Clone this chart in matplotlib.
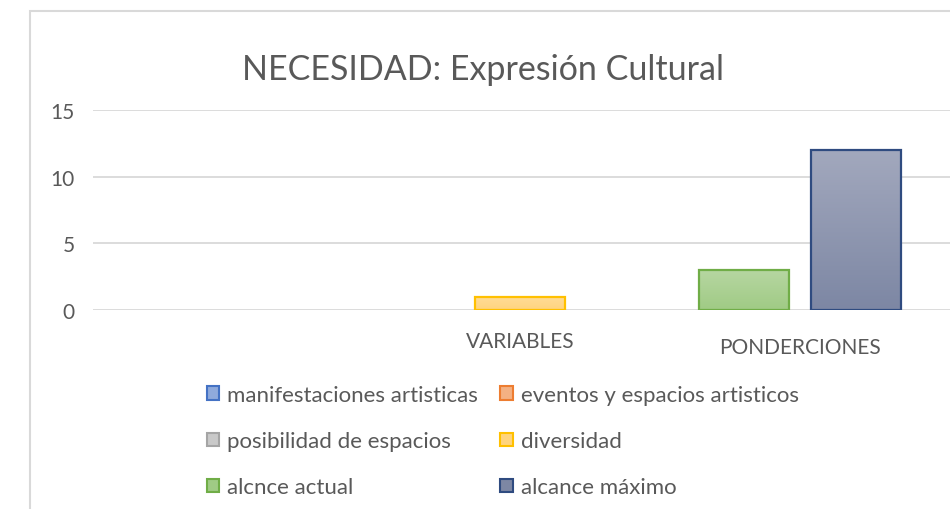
import numpy as np
import matplotlib
matplotlib.use('Agg')
import matplotlib.pyplot as plt
from matplotlib.patches import Rectangle
from matplotlib.transforms import blended_transform_factory

plt.rcParams['font.family'] = ['Lato', 'DejaVu Sans']

categories = ['', 'VARIABLES', 'PONDERCIONES']
series_names = ['manifestaciones artisticas', 'eventos y espacios artisticos',
                'posibilidad de espacios', 'diversidad', 'alcnce actual', 'alcance máximo']
manifestaciones = [0, 0, 0]
eventos = [0, 0, 0]
posibilidad = [0, 0, 0]
diversidad = [0, 1, 0]
alcnce_actual = [0, 0, 3]
alcance_maximo = [0, 0, 12]
y_ticks = [0, 5, 10, 15]

series_values = [manifestaciones, eventos, posibilidad, diversidad, alcnce_actual, alcance_maximo]
# (top colour, bottom colour, edge colour)
series_colors = [
    ('#A9BFE6', '#8FAADC', '#4472C4'),
    ('#F7C4A2', '#F4B183', '#ED7D31'),
    ('#D6D6D6', '#C9C9C9', '#A5A5A5'),
    ('#FFDC98', '#FFD47E', '#FFC000'),
    ('#B6D6A1', '#A0CB85', '#70AD47'),
    ('#A2A8BD', '#7D87A4', '#2F4B80'),
]

text_col = '#595959'
grid_col = '#D9D9D9'

fig = plt.figure(figsize=(9.5, 5.1), dpi=100)
ax = fig.add_axes([93 / 950, 199 / 510, 1 - 93 / 950, 200 / 510])

bar_w = 0.32
step = 0.40
for ci in range(len(categories)):
    present = [si for si in range(len(series_values)) if series_values[si][ci] != 0]
    n = len(present)
    for k, si in enumerate(present):
        x = ci + (k - (n - 1) / 2) * step
        v = series_values[si][ci]
        top, bottom, edge = series_colors[si]
        bar = ax.bar(x, v, width=bar_w, color='none', edgecolor=edge, linewidth=1.6, zorder=3)[0]
        grad = np.linspace(0, 1, 64).reshape(-1, 1)
        cmap = matplotlib.colors.LinearSegmentedColormap.from_list('g', [bottom, top])
        im = ax.imshow(grad, extent=(x - bar_w / 2, x + bar_w / 2, 0, v), origin='lower',
                       cmap=cmap, aspect='auto', zorder=2)
        im.set_clip_path(bar)

ax.set_xlim(-0.525, -0.525 + 857 / 280)
ax.set_ylim(0, 15)
ax.set_yticks(y_ticks)
ax.set_xticks([])
ax.tick_params(axis='y', length=0, pad=13, labelsize=15, labelcolor=text_col)
ax.grid(axis='y', color=grid_col, linewidth=1.3, zorder=0)
for s in ax.spines.values():
    s.set_visible(False)

# category labels (Excel staggers the second one slightly)
trans = blended_transform_factory(ax.transData, ax.transAxes)
label_y = [-31 / 200, -31 / 200, -37 / 200]
for ci, cat in enumerate(categories):
    ax.text(ci, label_y[ci], cat, transform=trans, ha='center', va='center',
            fontsize=15, color=text_col)

fig.text(0.508, 1 - 70 / 510, 'NECESIDAD: Expresión Cultural', ha='center', va='center',
         fontsize=24.5, color=text_col)

handles = []
for (top, bottom, edge), name in zip(series_colors, series_names):
    handles.append(Rectangle((0, 0), 1, 1, facecolor=bottom, edgecolor=edge, linewidth=1.5, label=name))
order = [0, 2, 4, 1, 3, 5]
leg = fig.legend([handles[i] for i in order], [series_names[i] for i in order],
                 ncol=2, loc='upper left', bbox_to_anchor=(207 / 950, 1 - 386 / 510),
                 frameon=False, fontsize=16, handlelength=0.55, handleheight=0.55,
                 handletextpad=0.36, columnspacing=1.0, labelspacing=1.18,
                 borderpad=0, borderaxespad=0)
for t in leg.get_texts():
    t.set_color(text_col)

fig.patches.append(Rectangle((30 / 950, -0.1), 1.2, 1.1 - 12 / 510, transform=fig.transFigure,
                             fill=False, edgecolor=grid_col, linewidth=1.5))

fig.savefig('out.png', dpi=100)
